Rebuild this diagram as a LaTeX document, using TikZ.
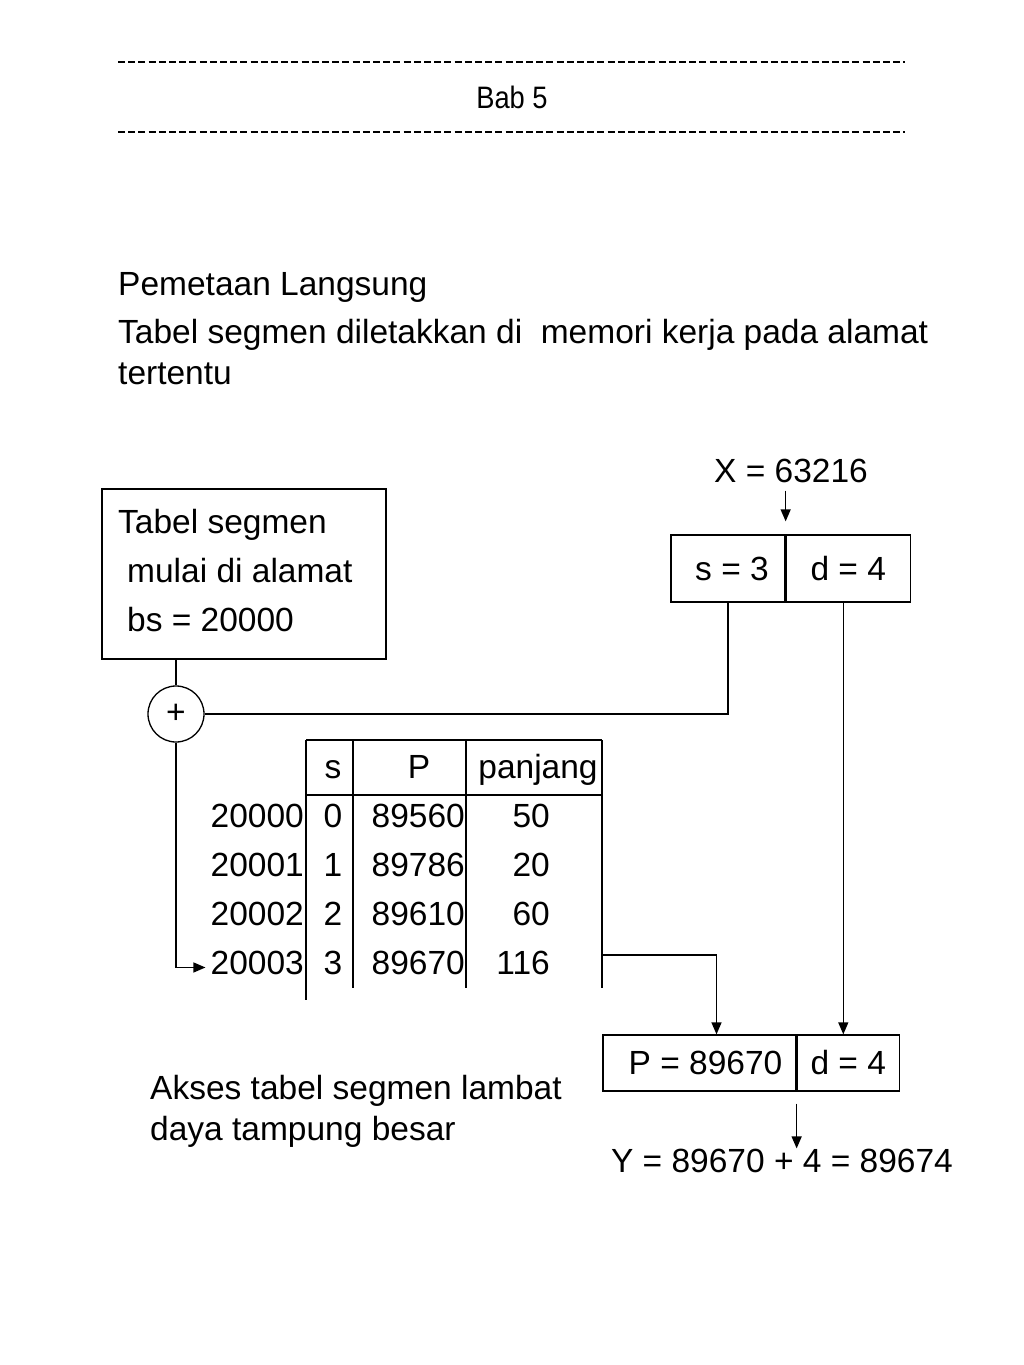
\documentclass[tikz,border=0pt]{standalone}
\usepackage{fontspec}
\setmainfont{Liberation Sans}
\usetikzlibrary{arrows.meta,positioning}

\tikzset{
  txt/.style={inner sep=0pt, font=\fontsize{33.5}{40}\selectfont},
  cell/.style={draw, line width=1.3pt, inner sep=0pt, minimum height=67pt, font=\fontsize{33.5}{40}\selectfont},
  link/.style={line width=1.3pt},
  arr/.style={line width=1.3pt, -{Triangle[length=12pt,width=10pt]}},
  rule/.style={line width=2.8pt, dash pattern=on 7pt off 3.2pt},
}

\begin{document}
\begin{tikzpicture}[x=1pt,y=-1pt]
  \useasboundingbox (0,0) rectangle (1024,1365);

  % 1. Header
  \draw[rule] (118,62) -- (905,62);
  \node[txt, anchor=base, xscale=0.88, transform shape, font=\fontsize{31}{36}\selectfont] (bab) at (512,108) {Bab 5};
  \draw[rule] (118,132) -- (905,132);

  % 2. Title text
  \node[txt, anchor=base west] (title) at (118,295) {Pemetaan Langsung};
  \node[txt, anchor=base west] (line1) at (118,343) {Tabel segmen diletakkan di\ \ memori kerja pada alamat};
  \node[txt, anchor=base west] (line2) at (118,384) {tertentu};

  % 3. Base register box
  \node[draw, link, minimum width=284pt, minimum height=170pt] (bsbox) at (244,574) {};
  \node[txt, anchor=base west] (bs1) at (118,533) {Tabel segmen};
  \node[txt, anchor=base west] (bs2) at (127,582) {mulai di alamat};
  \node[txt, anchor=base west] (bs3) at (127,631) {bs = 20000};
  \node[circle, draw, link, minimum size=56pt, inner sep=0pt, font=\fontsize{33.5}{40}\selectfont] (plus) at (176,714) {+};

  % 4. Logical address
  \node[txt, anchor=base] (xval) at (791,482) {X = 63216};
  \node[cell, minimum width=114pt] (scell) at (728,568.5) {\hspace{8pt}s = 3};
  \node[cell, minimum width=124pt, right=0pt of scell] (dcell) {d = 4};

  % 5. Segment table
  \draw[link] (306,740) -- (602,740);
  \draw[link] (306,795) -- (602,795);
  \draw[link] (306,740) -- (306,1000);
  \foreach \x in {353,466,602} \draw[link] (\x,740) -- (\x,988);
  \node[txt, anchor=base] (hs) at (333,778) {s};
  \node[txt, anchor=base] (hp) at (419,778) {P};
  \node[txt, anchor=base] (hlen) at (538,778) {panjang};
  \foreach \i/\addr/\p/\len in {0/20000/89560/50, 1/20001/89786/20, 2/20002/89610/60, 3/20003/89670/116} {
    \node[txt, anchor=base east] (addr\i) at (304,{827+49*\i}) {\addr};
    \node[txt, anchor=base] (seg\i) at (333,{827+49*\i}) {\i};
    \node[txt, anchor=base east] (base\i) at (465,{827+49*\i}) {\p};
    \node[txt, anchor=base east] (len\i) at (550,{827+49*\i}) {\len};
  }
  \coordinate (tabR) at (602,955);

  % 6. Physical address
  \node[cell, minimum width=193pt, minimum height=56pt] (pcell) at (699.5,1063) {\hspace{12pt}P = 89670};
  \node[cell, minimum width=102pt, minimum height=56pt, right=0pt of pcell] (dcell2) {d = 4};
  \node[txt, anchor=base] (yval) at (782,1172) {Y = 89670 + 4 = 89674};

  \node[txt, anchor=base west] (note1) at (150,1099) {Akses tabel segmen lambat};
  \node[txt, anchor=base west] (note2) at (150,1140) {daya tampung besar};

  % 7. Connectors
  \draw[link] (bsbox.south -| plus.north) -- (plus.north);
  \draw[link] (plus.east) -| (scell.south);
  \draw[arr, shorten >=5pt] (plus.south) |- ([yshift=-5pt]addr3.west);
  \draw[arr] ([yshift=-8pt]xval.south -| scell.east) -- ([yshift=13pt]scell.north east);
  \draw[arr] ([xshift=-5pt]dcell.south) -- ([xshift=-5pt]dcell.south |- dcell2.north);
  \draw[arr] (tabR) -| ([xshift=17pt]pcell.north);
  \draw[arr] ([yshift=-12pt]pcell.south east) -- (yval.north -| pcell.south east);
\end{tikzpicture}
\end{document}
